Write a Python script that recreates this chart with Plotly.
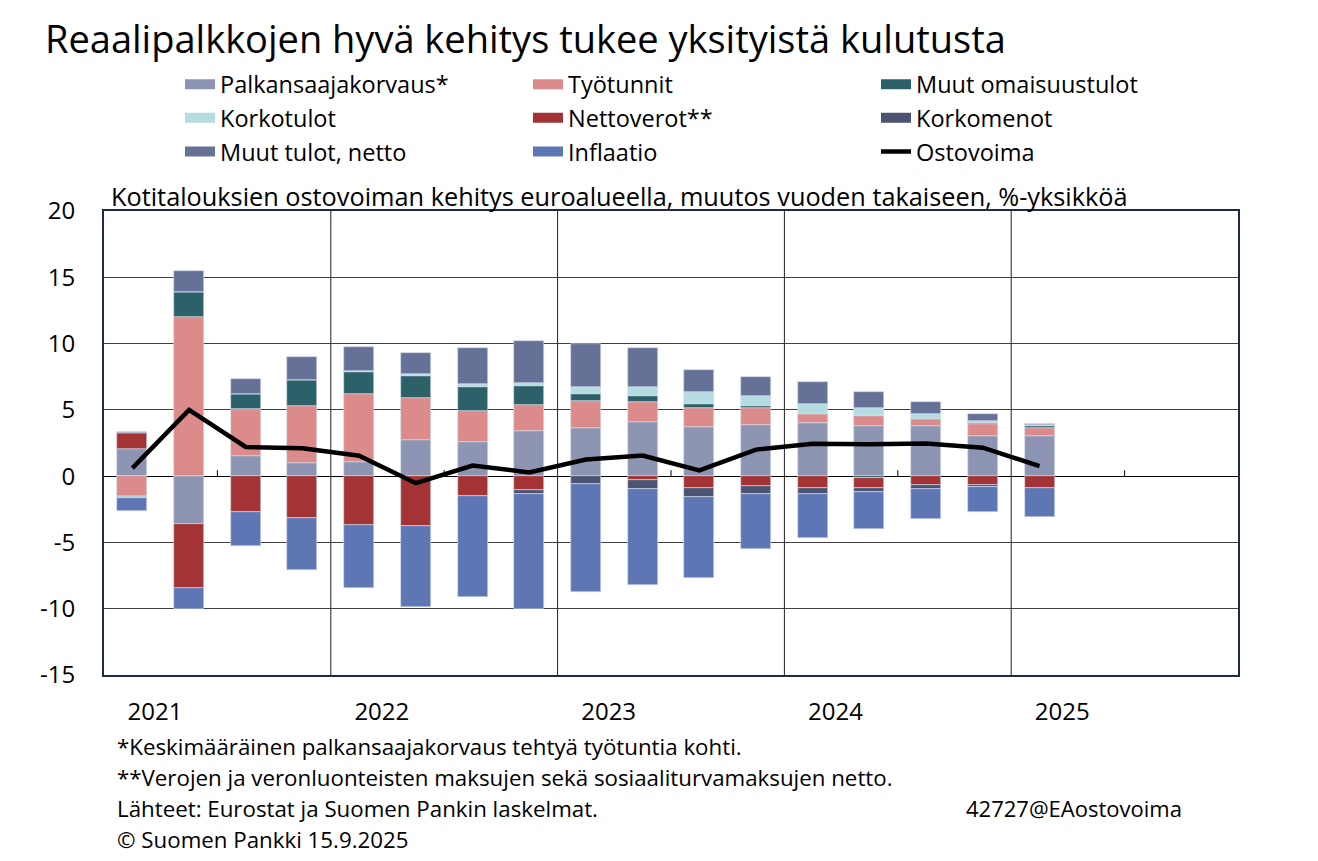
import plotly.graph_objects as go

quarters = ["2021Q1","2021Q2","2021Q3","2021Q4","2022Q1","2022Q2","2022Q3","2022Q4",
            "2023Q1","2023Q2","2023Q3","2023Q4","2024Q1","2024Q2","2024Q3","2024Q4","2025Q1"]
years = ["2021","2022","2023","2024","2025"]
y_ticks = [-15, -10, -5, 0, 5, 10, 15, 20]
y_ticklabels = ["-15", "-10", "-5", "0", "5", "10", "15", "20"]

palkansaajakorvaus = [2.04,-3.6,1.55,0.98,1.06,2.73,2.58,3.4,3.64,4.09,3.71,3.86,4.04,3.79,3.79,3.03,3.03]
tyotunnit = [-1.48,12.0,3.5,4.3,5.1,3.13,2.3,2.0,2.0,1.54,1.46,1.29,0.68,0.78,0.5,0.93,0.63]
muut_omaisuustulot = [-0.12,1.9,1.15,1.95,1.7,1.72,1.84,1.41,0.56,0.43,0.28,0.13,0.0,-0.15,0.0,0.08,0.13]
korkotulot = [-0.08,0.0,0.0,0.0,0.1,0.13,0.2,0.23,0.56,0.68,0.86,0.78,0.71,0.6,0.43,0.1,0.05]
nettoverot = [1.2,-4.85,-2.7,-3.15,-3.7,-3.76,-1.5,-1.06,0.0,-0.3,-0.91,-0.73,-0.88,-0.76,-0.7,-0.7,-0.93]
korkomenot = [0.0,0.0,0.0,0.0,0.0,0.0,0.0,-0.28,-0.58,-0.68,-0.68,-0.63,-0.45,-0.3,-0.25,-0.1,0.0]
muut_tulot_netto = [0.08,1.6,1.1,1.75,1.77,1.6,2.78,3.18,3.18,2.95,1.72,1.44,1.64,1.14,0.9,0.58,0.08]
inflaatio = [-0.95,-1.55,-2.55,-3.9,-4.7,-6.1,-7.58,-8.7,-8.18,-7.25,-6.1,-4.17,-3.33,-2.8,-2.27,-1.9,-2.12]
ostovoima = [0.6,5.0,2.2,2.1,1.54,-0.53,0.8,0.28,1.25,1.55,0.43,2.0,2.45,2.4,2.47,2.15,0.76]

series = [
    ("Palkansaajakorvaus*", palkansaajakorvaus, "#8E95B2"),
    ("Työtunnit", tyotunnit, "#DC8B8B"),
    ("Muut omaisuustulot", muut_omaisuustulot, "#2D6169"),
    ("Korkotulot", korkotulot, "#B5DCE0"),
    ("Nettoverot**", nettoverot, "#A33334"),
    ("Korkomenot", korkomenot, "#4D5473"),
    ("Muut tulot, netto", muut_tulot_netto, "#667197"),
    ("Inflaatio", inflaatio, "#5E76B4"),
]

FONT = "'Open Sans', sans-serif"
xs = list(range(len(quarters)))

fig = go.Figure()
for name, vals, col in series:
    fig.add_trace(go.Bar(x=xs, y=vals, name=name, width=0.53, showlegend=False,
                         legendgroup=name,
                         marker=dict(color=col, line=dict(color="#D5DCEE", width=0.6))))
    # legend proxy: wide rectangular swatch like the original
    fig.add_trace(go.Scatter(x=[None], y=[None], name=name, mode="lines", legendgroup=name,
                             line=dict(color=col, width=15), showlegend=True))
fig.add_trace(go.Scatter(x=xs, y=ostovoima, name="Ostovoima", mode="lines",
                         line=dict(color="black", width=4.5)))

n_slots = 4 * len(years)
for i in range(1, len(years)):
    fig.add_shape(type="line", xref="x", yref="paper", x0=4*i-0.5, x1=4*i-0.5, y0=0, y1=1,
                  line=dict(color="#202020", width=1), layer="below")
for i in range(len(years)):
    fig.add_shape(type="line", xref="x", yref="y", x0=4*i+1.5, x1=4*i+1.5, y0=0, y1=0.45,
                  line=dict(color="black", width=1))

fig.update_layout(
    width=1318, height=861,
    paper_bgcolor="white", plot_bgcolor="white",
    barmode="relative", bargap=0,
    margin=dict(l=104, r=80, t=211, b=186),
    font=dict(family=FONT, size=22, color="black"),
    showlegend=True,
    legend=dict(orientation="h", x=(180-104)/1134, y=1.32, xanchor="left", yanchor="top",
                entrywidth=303, entrywidthmode="pixels", traceorder="normal",
                font=dict(size=23.5, family=FONT), bgcolor="rgba(0,0,0,0)",
                itemwidth=30, tracegroupgap=0),
    title=dict(text="Reaalipalkkojen hyvä kehitys tukee yksityistä kulutusta",
               x=45/1318, xanchor="left", y=1-40/861, yanchor="middle",
               font=dict(size=38, family=FONT, color="black")),
)
fig.update_xaxes(range=[-0.5, n_slots-0.5], showgrid=False, zeroline=False,
                 tickvals=[4*i+0.4 for i in range(len(years))], ticktext=years,
                 ticks="", ticklabelstandoff=14, tickfont=dict(size=24),
                 showline=True, mirror=True, linecolor="#1F2A44", linewidth=2)
fig.update_yaxes(range=[-15, 20], tickvals=y_ticks, ticktext=y_ticklabels,
                 showgrid=True, gridcolor="#404040",
                 gridwidth=1.2, zeroline=True, zerolinecolor="black", zerolinewidth=1.2,
                 ticks="", ticklabelstandoff=22, tickfont=dict(size=24),
                 showline=True, mirror=True, linecolor="#1F2A44", linewidth=2)

fig.add_annotation(text="Kotitalouksien ostovoiman kehitys euroalueella, muutos vuoden takaiseen, %-yksikköä",
                   xref="paper", yref="paper", x=(109-104)/1134, y=(675-196)/464,
                   xanchor="left", yanchor="middle", showarrow=False, font=dict(size=25.3))
foot = ["*Keskimääräinen palkansaajakorvaus tehtyä työtuntia kohti.",
        "**Verojen ja veronluonteisten maksujen sekä sosiaaliturvamaksujen netto.",
        "Lähteet: Eurostat ja Suomen Pankin laskelmat.",
        "© Suomen Pankki 15.9.2025"]
for k, t in enumerate(foot):
    fig.add_annotation(text=t, xref="paper", yref="paper", x=(115-104)/1134,
                       y=(675-(746+31*k))/464, xanchor="left", yanchor="middle",
                       showarrow=False, font=dict(size=22.3))
fig.add_annotation(text="42727@EAostovoima", xref="paper", yref="paper", x=(1184-104)/1134,
                   y=(675-808)/464, xanchor="right", yanchor="middle", showarrow=False,
                   font=dict(size=22))

fig.write_html("out.html", post_script="document.body.style.margin='0';",
               config={"displayModeBar": False})
